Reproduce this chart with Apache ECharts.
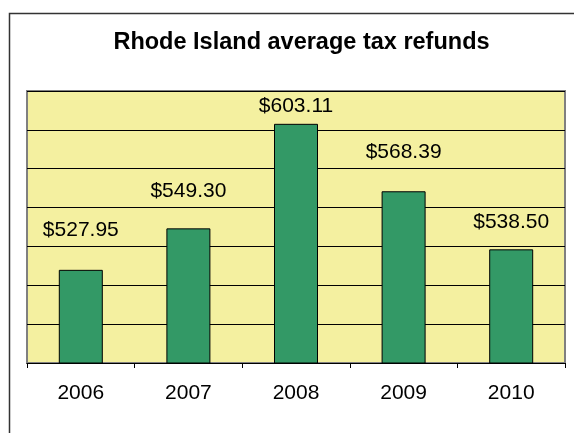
<!DOCTYPE html>
<html>
<head>
<meta charset="utf-8">
<script src="https://cdn.jsdelivr.net/npm/echarts@6/dist/echarts.min.js"></script>
<style>
html,body{margin:0;padding:0;background:#fff;}
#c{width:574px;height:433px;}
</style>
</head>
<body>
<div id="c"></div>
<script>
var years = ['2006', '2007', '2008', '2009', '2010'];
var refunds = [527.95, 549.30, 603.11, 568.39, 538.50];
var yMin = 480, yMax = 620, yStep = 20;

// label gaps above each bar (style only)
var labelGap = [29, 27, 7, 29, 17];

var chart = echarts.init(document.getElementById('c'), null, {renderer: 'canvas'});
var FONT = 'Liberation Sans, Arial, sans-serif';

chart.setOption({
  animation: false,
  backgroundColor: '#fff',
  title: {
    text: 'Rhode Island average tax refunds',
    left: 296.5, top: 26, textAlign: 'center',
    textStyle: {fontFamily: FONT, fontSize: 23.5, fontWeight: 'bold', color: '#000'}
  },
  graphic: [{
    type: 'rect', left: 7, top: 11, z: 100, silent: true,
    shape: {width: 620, height: 480},
    style: {fill: 'none', stroke: '#333', lineWidth: 1.5}
  }],
  grid: {
    left: 27, right: 9, top: 91, bottom: 70,
    show: true, backgroundColor: '#F4F0A0', borderColor: '#808080', borderWidth: 2
  },
  xAxis: {
    type: 'category', data: years, boundaryGap: true,
    axisLine: {show: true, lineStyle: {color: '#000', width: 1}},
    axisTick: {show: true, length: 5, lineStyle: {color: '#000'}},
    axisLabel: {fontFamily: FONT, fontSize: 21, color: '#000', margin: 20},
    splitLine: {show: false}
  },
  yAxis: {
    type: 'value', min: yMin, max: yMax, interval: yStep,
    axisLine: {show: false}, axisTick: {show: false}, axisLabel: {show: false},
    splitLine: {show: true, lineStyle: {color: '#000', width: 1}}
  },
  series: [{
    type: 'bar',
    barWidth: 44,
    data: refunds.map(function (v, i) {
      return {value: v, label: {distance: labelGap[i]}};
    }),
    itemStyle: {color: '#339966', borderColor: '#000', borderWidth: 1},
    label: {
      show: true, position: 'top',
      fontFamily: FONT, fontSize: 21, color: '#000',
      formatter: function (p) { return '$' + p.value.toFixed(2); }
    }
  }]
});
</script>
</body>
</html>
